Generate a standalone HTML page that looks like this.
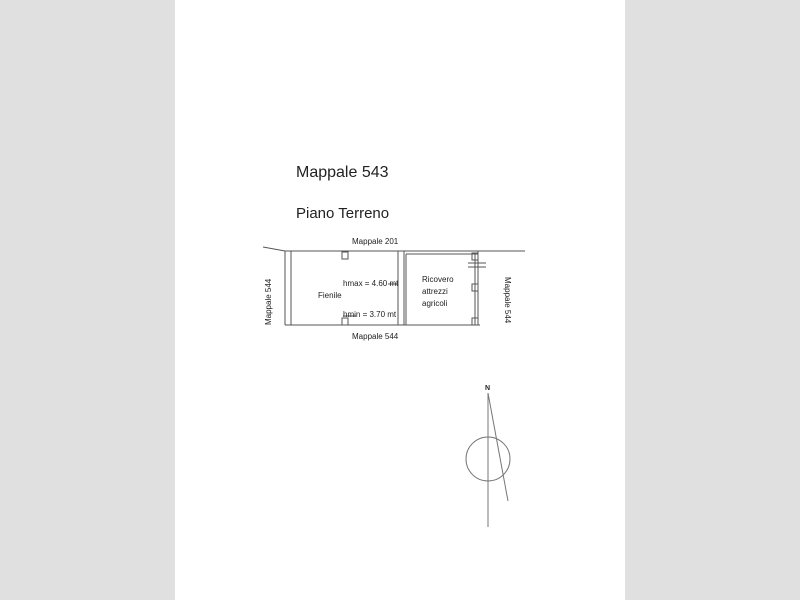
<!DOCTYPE html>
<html><head><meta charset="utf-8"><style>
html,body{margin:0;padding:0;width:800px;height:600px;overflow:hidden;background:#e0e0e0;}
svg{position:absolute;left:0;top:0;}
text{font-family:"Liberation Sans",sans-serif;fill:#222;}
</style></head><body>
<svg width="800" height="600" viewBox="0 0 800 600">
<rect x="175" y="0" width="450" height="600" fill="#fff"/>
<text x="296" y="177" font-size="16">Mappale 543</text>
<text x="296" y="218" font-size="15">Piano Terreno</text>
<g stroke="#555" stroke-width="1" fill="none">
<polyline points="263,247 285,251 525,251"/>
<line x1="285" y1="251" x2="285" y2="325"/>
<line x1="291" y1="251" x2="291" y2="325"/>
<line x1="285" y1="325" x2="480" y2="325"/>
<line x1="398" y1="251" x2="398" y2="325"/>
<line x1="404" y1="251" x2="404" y2="325"/>
<line x1="406" y1="254" x2="406" y2="325"/>
<line x1="406" y1="254" x2="478" y2="254"/>
<line x1="475" y1="254" x2="475" y2="325"/>
<line x1="478" y1="251" x2="478" y2="325"/>
<line x1="468" y1="263" x2="486" y2="263"/>
<line x1="468" y1="267" x2="486" y2="267"/>
<rect x="342" y="252" width="6" height="7"/>
<rect x="342" y="318" width="6" height="7"/>
<rect x="472" y="253" width="6" height="7"/>
<rect x="472" y="284" width="6" height="7"/>
<rect x="472" y="318" width="6" height="7"/>
<line x1="388" y1="284" x2="398" y2="284"/>
<line x1="343" y1="316" x2="356" y2="316"/>
</g>
<text x="352" y="244" font-size="8">Mappale 201</text>
<text x="352" y="339" font-size="8">Mappale 544</text>
<text x="343" y="286" font-size="8">hmax = 4.60 mt</text>
<text x="343" y="317" font-size="8">hmin = 3.70 mt</text>
<text x="318" y="298" font-size="8">Fienile</text>
<text x="422" y="282" font-size="8">Ricovero</text>
<text x="422" y="294" font-size="8">attrezzi</text>
<text x="422" y="306" font-size="8">agricoli</text>
<text font-size="8" transform="translate(271,325) rotate(-90)">Mappale 544</text>
<text font-size="8" transform="translate(505,277) rotate(90)">Mappale 544</text>
<text x="485" y="390" font-size="7" font-weight="bold">N</text>
<g stroke="#777" stroke-width="1" fill="none">
<line x1="488" y1="393" x2="488" y2="527"/>
<line x1="488" y1="393" x2="508" y2="501"/>
<circle cx="488" cy="459" r="22"/>
</g>
</svg>
</body></html>
